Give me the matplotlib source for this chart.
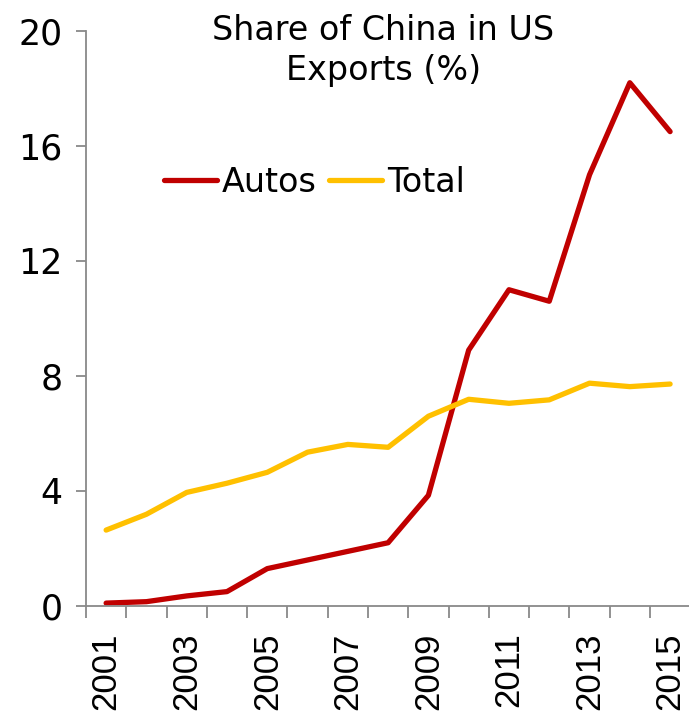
import numpy as np
import matplotlib.pyplot as plt

years = list(range(2001, 2016))
autos = [0.1, 0.15, 0.35, 0.5, 1.3, 1.6, 1.9, 2.2, 3.85, 8.9, 11.0, 10.6, 15.0, 18.2, 16.5]
total = [2.64, 3.19, 3.95, 4.27, 4.65, 5.35, 5.62, 5.52, 6.6, 7.19, 7.05, 7.17, 7.75, 7.63, 7.72]
year_labels = [str(y) if (y - 2001) % 2 == 0 else '' for y in years]

plt.rcParams['font.family'] = ['DejaVu Sans']

fig = plt.figure(figsize=(6.89, 7.11), dpi=100)
ax = fig.add_axes([0.1248, 0.1477, 0.877, 0.8087])

x = np.arange(len(years))
ax.plot(x, autos, color='#C00000', lw=3.8, solid_capstyle='round', label='Autos')
ax.plot(x, total, color='#FFC000', lw=3.8, solid_capstyle='round', label='Total')

ax.set_xlim(-0.5, len(years) - 0.5)
ax.set_ylim(0, 20)
ax.set_yticks([0, 4, 8, 12, 16, 20])
ax.tick_params(axis='y', labelsize=25, length=7, width=1.3, color='#898989', pad=10)

# category axis: ticks between categories, labels at centres
ax.set_xticks(np.arange(-0.5, len(years), 1.0))
ax.set_xticklabels([])
ax.set_xticks(x, minor=True)
ax.set_xticklabels(year_labels, minor=True, rotation=90, fontsize=25,
                   family='Liberation Sans')
ax.tick_params(axis='x', which='major', length=8.5, width=1.3, color='#898989')
ax.tick_params(axis='x', which='minor', length=0, pad=19)

for s in ['top', 'right']:
    ax.spines[s].set_visible(False)
for s in ['left', 'bottom']:
    ax.spines[s].set_color('#898989')
    ax.spines[s].set_linewidth(1.3)

fig.text(0.556, 0.929, 'Share of China in US\nExports (%)', ha='center', va='center',
         fontsize=24, linespacing=1.25)

ax.legend(loc='center', bbox_to_anchor=(0.378, 0.737), ncol=2, frameon=False,
          fontsize=24, handlelength=1.6, handletextpad=0.15, columnspacing=0.35,
          borderaxespad=0)

fig.savefig('out.png', dpi=100)
